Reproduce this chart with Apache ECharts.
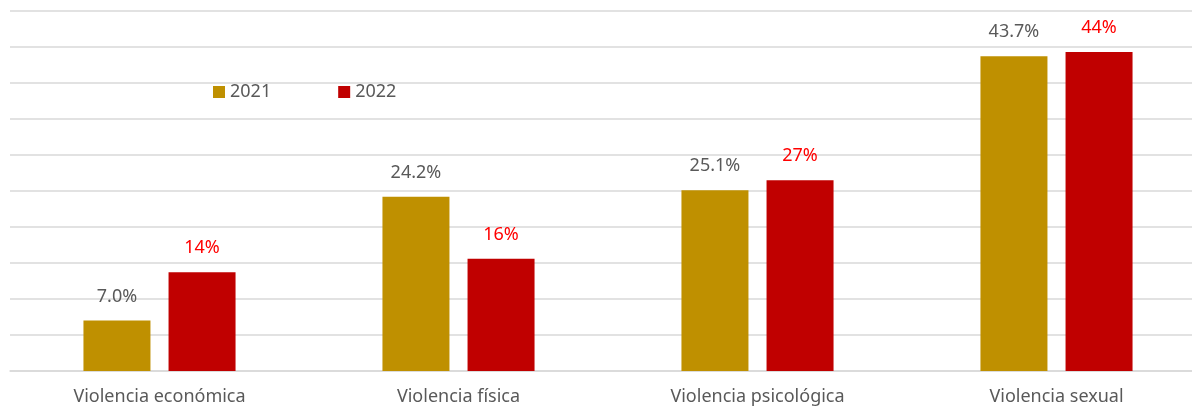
<!DOCTYPE html>
<html>
<head>
<meta charset="utf-8">
<script src="https://cdn.jsdelivr.net/npm/echarts@6/dist/echarts.min.js"></script>
<style>
  html, body { margin: 0; padding: 0; background: #fff; }
  #chart { width: 1192px; height: 409px; }
</style>
</head>
<body>
<div id="chart"></div>
<script>
var categories = ['Violencia económica', 'Violencia física', 'Violencia psicológica', 'Violencia sexual'];
var values2021 = [7.0, 24.2, 25.1, 43.7];
var values2022 = [13.7, 15.6, 26.5, 44.3];
var seriesNames = ['2021', '2022'];

var chart = echarts.init(document.getElementById('chart'));
var font = 'Noto Sans';

var option = {
    animation: false,
    textStyle: { fontFamily: font },
    legend: {
        data: seriesNames,
        left: 208,
        top: 78,
        itemWidth: 12,
        itemHeight: 12,
        itemGap: 67,
        icon: 'rect',
        textStyle: { color: '#595959', fontSize: 18, fontFamily: font }
    },
    grid: {
        left: 10,
        top: 11,
        width: 1196,
        bottom: 38,
        containLabel: false,
        outerBoundsMode: 'none'
    },
    xAxis: {
        type: 'category',
        data: categories,
        axisLine: { lineStyle: { color: '#d9d9d9', width: 1.5 } },
        axisTick: { show: false },
        axisLabel: { color: '#595959', fontSize: 18, margin: 17, fontFamily: font }
    },
    yAxis: {
        type: 'value',
        min: 0,
        max: 50,
        interval: 5,
        axisLabel: { show: false },
        axisLine: { show: false },
        axisTick: { show: false },
        splitLine: { lineStyle: { color: '#d9d9d9', width: 1.5 } }
    },
    series: [
        {
            name: seriesNames[0],
            type: 'bar',
            data: values2021,
            barWidth: 67,
            barGap: '27%',
            itemStyle: { color: '#BF9000' },
            label: {
                show: true,
                position: 'top',
                distance: 15,
                color: '#595959',
                fontSize: 18,
                fontFamily: font,
                formatter: function (p) { return p.value.toFixed(1) + '%'; }
            }
        },
        {
            name: seriesNames[1],
            type: 'bar',
            data: values2022,
            barWidth: 67,
            barGap: '27%',
            itemStyle: { color: '#C00000' },
            label: {
                show: true,
                position: 'top',
                distance: 15,
                color: '#FF0000',
                fontSize: 18,
                fontFamily: font,
                formatter: function (p) { return Math.round(p.value) + '%'; }
            }
        }
    ]
};
chart.setOption(option);
</script>
</body>
</html>
